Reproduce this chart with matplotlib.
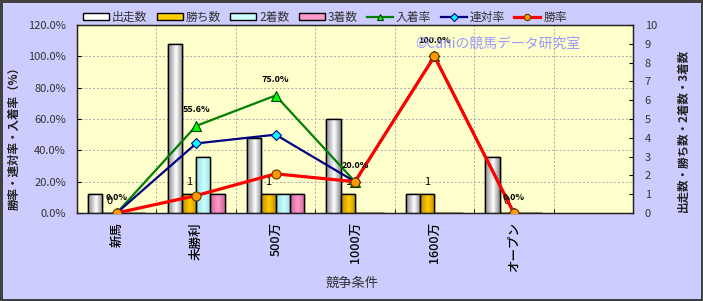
import numpy as np
import matplotlib
matplotlib.use('Agg')
import matplotlib.pyplot as plt
from matplotlib.colors import LinearSegmentedColormap

plt.rcParams['font.family'] = ['Noto Sans CJK JP', 'DejaVu Sans']

# ---------------- data ----------------
categories = ['新馬', '未勝利', '500万', '1000万', '1600万', 'オープン']
starts = [1, 9, 4, 5, 1, 3]          # 出走数
wins = [0, 1, 1, 1, 1, 0]            # 勝ち数
seconds = [0, 3, 1, 0, 0, 0]         # 2着数
thirds = [0, 1, 1, 0, 0, 0]          # 3着数
place_rate = [0.0, 55.6, 75.0, 20.0, 100.0, 0.0]   # 入着率
rentai_rate = [0.0, 44.4, 50.0, 20.0, 100.0, 0.0]  # 連対率
win_rate = [0.0, 11.1, 25.0, 20.0, 100.0, 0.0]     # 勝率
left_ticks = [0, 20, 40, 60, 80, 100, 120]
right_ticks = list(range(0, 11))
n_slots = 7

W, H = 703, 301
fig = plt.figure(figsize=(W / 100, H / 100), dpi=100)
fig.patch.set_facecolor('#CCCCFF')
fig.patch.set_edgecolor('#404040')
fig.patch.set_linewidth(2.5)

ax = fig.add_axes([77 / W, 1 - 213 / H, 556 / W, 188 / H])
ax2 = ax.twinx()
ax.set_zorder(2)
ax2.set_zorder(1)
ax.patch.set_visible(False)
ax2.patch.set_visible(True)
ax2.patch.set_facecolor('#FFFFCC')

x = np.arange(len(categories))
bw = 0.18

# grid (behind bars) on the bar axis
for t in left_ticks[1:-1]:
    ax2.axhline(t * 10 / 120, color='#aaaaaa', lw=0.7, ls=(0, (2, 2)), zorder=1)
for i in range(n_slots - 1):
    ax2.axvline(i + 0.5, color='#aaaaaa', lw=0.7, ls=(0, (2, 2)), zorder=1)

def gbars(vals, off, dark, light, label):
    xs = x + off * bw
    bars = ax2.bar(xs, vals, bw, color=light, edgecolor='black', linewidth=1,
                   zorder=3, label=label)
    cmap = LinearSegmentedColormap.from_list('g', [(0, dark), (0.55, light), (1, dark)])
    grad = np.linspace(0, 1, 64).reshape(1, -1)
    for b in bars:
        if b.get_height() <= 0:
            continue
        bx, by = b.get_x(), b.get_y()
        im = ax2.imshow(grad, cmap=cmap, aspect='auto', interpolation='bilinear',
                        extent=(bx, bx + b.get_width(), by, by + b.get_height()),
                        zorder=3.5)
        im.set_clip_path(b)
    ax2.bar(xs, vals, bw, fill=False, edgecolor='black', linewidth=1, zorder=4)
    return bars

b1 = gbars(starts, -1.5, '#8a8a8a', '#ffffff', '出走数')
b2 = gbars(wins, -0.5, '#c09000', '#ffcc00', '勝ち数')
b3 = gbars(seconds, 0.5, '#99dddd', '#ccffff', '2着数')
b4 = gbars(thirds, 1.5, '#cc6699', '#ff99cc', '3着数')

for xi, v in zip(x - 0.5 * bw, wins):
    ax2.annotate(f'{v}', (xi, v), xytext=(0, 12), textcoords='offset pixels',
                 ha='center', va='center', fontsize=8, color='black', zorder=6)

l1, = ax.plot(x, place_rate, color='#008000', lw=1.6, marker='^', ms=7,
              mfc='#00ff00', mec='#004000', mew=0.8, label='入着率', zorder=3)
l2, = ax.plot(x, rentai_rate, color='#000080', lw=1.6, marker='D', ms=5.5,
              mfc='#00ffff', mec='#000080', mew=0.8, label='連対率', zorder=4)
l3, = ax.plot(x, win_rate, color='#ff0000', lw=2.3, marker='o', ms=6.5,
              mfc='#ff9900', mec='#663300', mew=0.8, label='勝率', zorder=5)

for xi, v in zip(x, place_rate):
    ax.annotate(f'{v:.1f}%', (xi, v), xytext=(0, 16), textcoords='offset pixels',
                ha='center', va='center', fontsize=6.5, fontweight='bold',
                color='black', zorder=6)

ax.set_ylim(0, 120)
ax2.set_ylim(0, 10)
ax.set_xlim(-0.5, n_slots - 0.5)
ax2.set_xlim(-0.5, n_slots - 0.5)

ax.set_yticks(left_ticks)
ax.set_yticklabels([f'{t:.1f}%' for t in left_ticks])
ax2.set_yticks(right_ticks)
ax2.set_yticklabels([str(t) for t in right_ticks])
ax.set_xticks(x)
ax.set_xticklabels(categories, rotation=90, fontsize=9, color='black',
                   fontweight='medium')
ax.set_xticks(np.arange(n_slots - 1) + 0.5, minor=True)
ax.tick_params(axis='x', which='major', length=0, pad=6.5)
ax.tick_params(axis='x', which='minor', direction='in', length=3)
ax.tick_params(axis='y', direction='in', length=3, pad=8, labelsize=8,
               labelcolor='#333333')
ax2.tick_params(axis='y', direction='in', length=3, pad=8.5, labelsize=8,
                labelcolor='#333333')
ax2.tick_params(axis='x', which='both', length=0, labelbottom=False)

for a in (ax, ax2):
    for s in a.spines.values():
        s.set_color('#222222')
        s.set_linewidth(0.9)

fig.text(14 / W, 1 - 135 / H, '勝率・連対率・入着率（%）', rotation=90,
         ha='center', va='center', fontsize=8.3, fontweight='bold', color='#222222')
fig.text(683 / W, 1 - 130 / H, '出走数・勝ち数・2着数・3着数', rotation=90,
         ha='center', va='center', fontsize=8.3, fontweight='bold', color='#222222')
fig.text(352 / W, 1 - 283 / H, '競争条件', ha='center', va='center',
         fontsize=9.5, color='#333333')

fig.text(415 / W, 1 - 44 / H, '©Caniの競馬データ研究室', ha='left', va='center',
         fontsize=10, color='#9999ff', zorder=10)

handles = [b1, b2, b3, b4, l1, l2, l3]
labels = ['出走数', '勝ち数', '2着数', '3着数', '入着率', '連対率', '勝率']
leg = fig.legend(handles, labels, loc='center left',
                 bbox_to_anchor=(83 / W, 1 - 17 / H), ncol=7, frameon=False,
                 fontsize=8.5, handlelength=2.2, handleheight=0.55,
                 handletextpad=0.25, columnspacing=0.8, borderaxespad=0,
                 borderpad=0, markerscale=0.7)
for t in leg.get_texts():
    t.set_color('#333333')

fig.savefig('out.png', dpi=100, facecolor=fig.get_facecolor(),
            edgecolor=fig.get_edgecolor())
